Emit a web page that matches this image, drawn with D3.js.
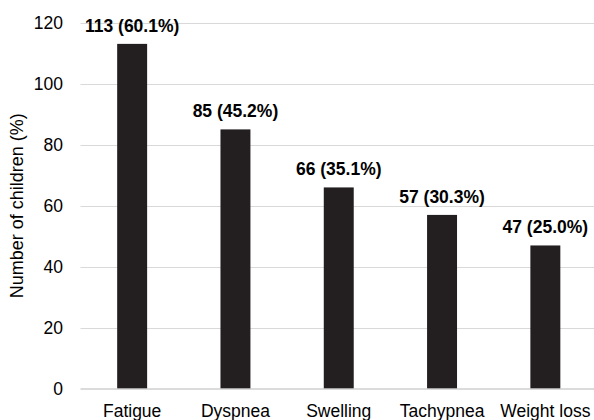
<!DOCTYPE html>
<html>
<head>
<meta charset="utf-8">
<script src="https://cdn.jsdelivr.net/npm/d3@7"></script>
<style>
  html, body { margin: 0; padding: 0; background: #fff; overflow: hidden; }
  svg text { font-family: Arial, "Liberation Sans", Helvetica, sans-serif; }
</style>
</head>
<body>
<svg id="chart" width="594" height="420"></svg>
<script>
// Symptoms reported among children
const categories = ["Fatigue", "Dyspnea", "Swelling", "Tachypnea", "Weight loss"];
const counts = [113, 85, 66, 57, 47];
const percents = ["60.1%", "45.2%", "35.1%", "30.3%", "25.0%"];
const yTicks = [0, 20, 40, 60, 80, 100, 120];

const svg = d3.select("#chart");
const margin = { top: 22.5, right: 0, bottom: 31, left: 80.5 };
const width = 594, height = 420;
const fontSize = 17.5;

const x = d3.scaleBand()
  .domain(categories)
  .range([margin.left, 597])
  .paddingInner(0.71)
  .paddingOuter(0.355);

const y = d3.scaleLinear()
  .domain([0, 120])
  .range([height - margin.bottom, margin.top]);

// horizontal gridlines
svg.append("g")
  .selectAll("line")
  .data(yTicks.filter(d => d > 0))
  .join("line")
  .attr("x1", margin.left)
  .attr("x2", width)
  .attr("y1", d => Math.round(y(d)) + 0.5)
  .attr("y2", d => Math.round(y(d)) + 0.5)
  .attr("stroke", "#d9d9d9")
  .attr("stroke-width", 1);

// tick labels on the left
svg.append("g")
  .selectAll("text")
  .data(yTicks)
  .join("text")
  .attr("x", 63)
  .attr("y", d => y(d))
  .attr("dy", "0.35em")
  .attr("text-anchor", "end")
  .attr("font-size", fontSize)
  .attr("fill", "#000")
  .text(d => d);

// bars
svg.append("g")
  .selectAll("rect")
  .data(categories)
  .join("rect")
  .attr("x", d => x(d))
  .attr("y", (d, i) => y(counts[i]))
  .attr("width", x.bandwidth())
  .attr("height", (d, i) => y(0) - y(counts[i]))
  .attr("fill", "#231f20");

// baseline
svg.append("line")
  .attr("x1", margin.left)
  .attr("x2", width)
  .attr("y1", y(0))
  .attr("y2", y(0))
  .attr("stroke", "#cfcfcf")
  .attr("stroke-width", 1.5);

// value labels above bars
svg.append("g")
  .selectAll("text")
  .data(categories)
  .join("text")
  .attr("x", d => x(d) + x.bandwidth() / 2)
  .attr("y", (d, i) => y(counts[i]) - 12)
  .attr("text-anchor", "middle")
  .attr("font-size", fontSize)
  .attr("font-weight", "bold")
  .attr("fill", "#000")
  .text((d, i) => `${counts[i]} (${percents[i]})`);

// category labels
svg.append("g")
  .selectAll("text")
  .data(categories)
  .join("text")
  .attr("x", d => x(d) + x.bandwidth() / 2)
  .attr("y", 416.5)
  .attr("text-anchor", "middle")
  .attr("font-size", fontSize)
  .attr("fill", "#000")
  .text(d => d);

// y-axis title
svg.append("text")
  .attr("transform", `translate(23, ${(y(0) + y(120)) / 2}) rotate(-90)`)
  .attr("text-anchor", "middle")
  .attr("font-size", 18)
  .attr("fill", "#000")
  .text("Number of children (%)");
</script>
</body>
</html>
